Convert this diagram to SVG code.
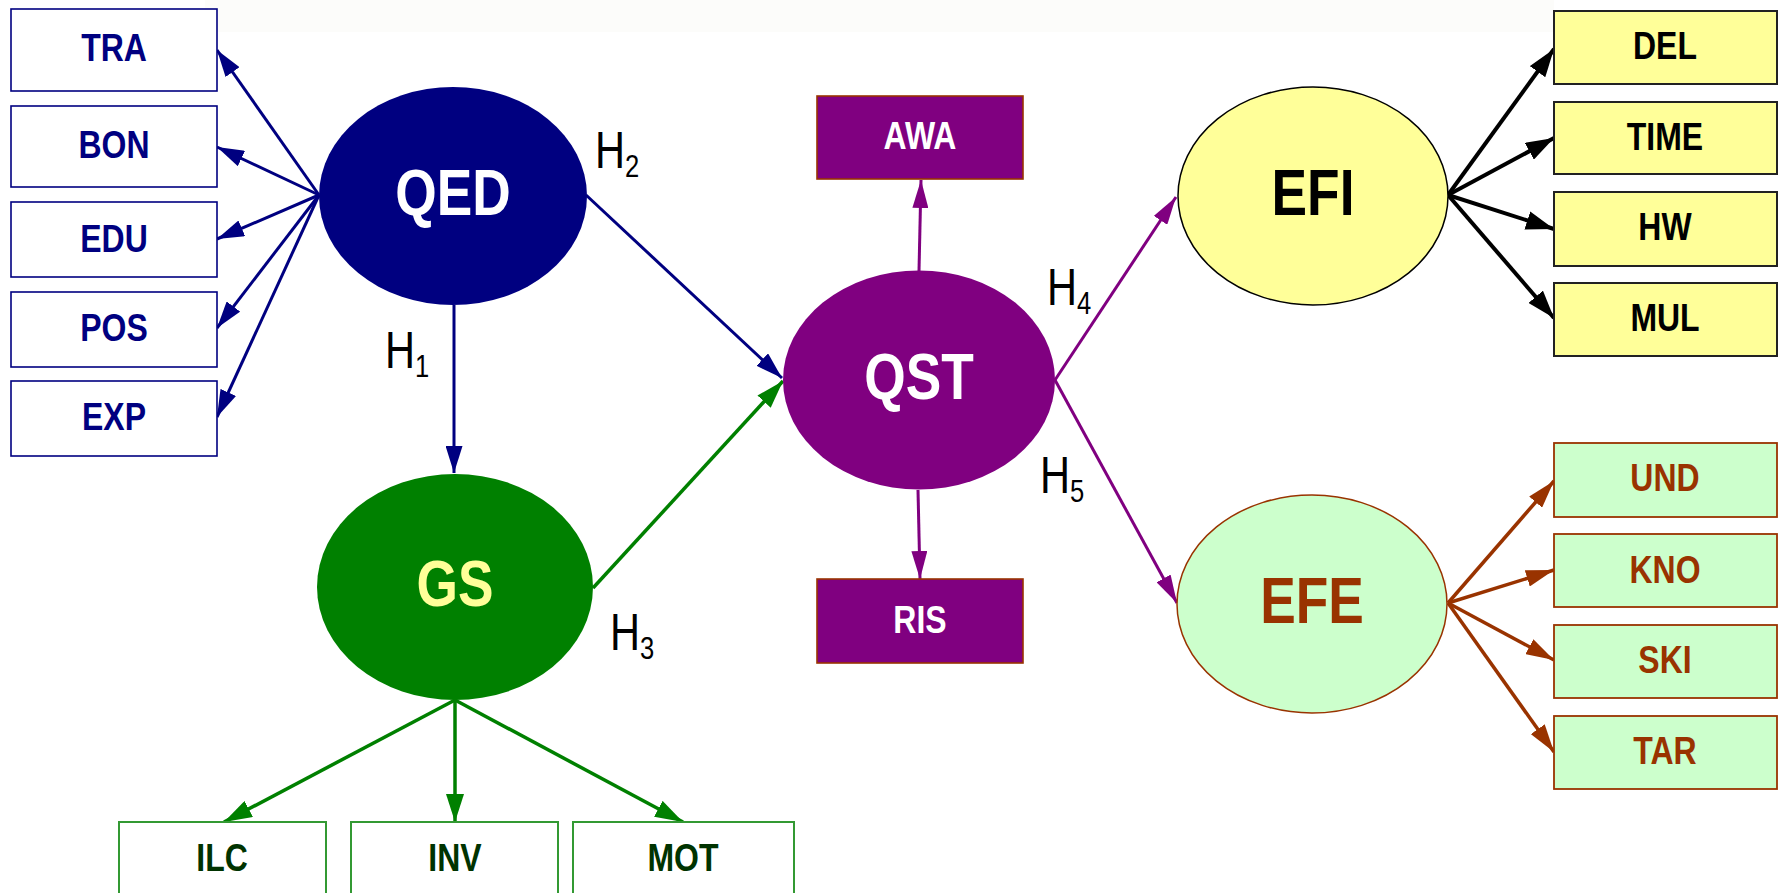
<svg xmlns="http://www.w3.org/2000/svg" width="1788" height="893" viewBox="0 0 1788 893">
  <style>
    text { font-family: "Liberation Sans", Arial, sans-serif; }
    .lbl { font-weight: bold; font-size: 39px; text-anchor: middle; }
    .big { font-weight: bold; font-size: 65px; text-anchor: middle; }
    .hyp { font-size: 52px; fill: #000; }
    .hyp tspan { font-size: 32px; }
    .navy-box { fill: #fff; stroke: #000080; stroke-width: 1.6; }
    .green-box { fill: #fff; stroke: #339933; stroke-width: 2; }
    .purple-box { fill: #800080; stroke: #993300; stroke-width: 1.6; }
    .yellow-box { fill: #FFFF99; stroke: #222; stroke-width: 2; }
    .mint-box { fill: #CCFFCC; stroke: #993300; stroke-width: 1.8; }
    .c-navy { stroke: #000080; stroke-width: 3; fill: none; marker-end: url(#ah-navy); }
    .c-green { stroke: #008000; stroke-width: 3.5; fill: none; marker-end: url(#ah-green); }
    .c-purple { stroke: #800080; stroke-width: 3; fill: none; marker-end: url(#ah-purple); }
    .c-black { stroke: #000; stroke-width: 4; fill: none; marker-end: url(#ah-black); }
    .c-brown { stroke: #993300; stroke-width: 3.5; fill: none; marker-end: url(#ah-brown); }
  </style>
  <defs>
    <marker id="ah-navy" markerUnits="userSpaceOnUse" markerWidth="27" markerHeight="17" refX="27" refY="8.5" orient="auto">
      <path d="M0,0 L27,8.5 L0,17 z" fill="#000080"/>
    </marker>
    <marker id="ah-green" markerUnits="userSpaceOnUse" markerWidth="28" markerHeight="18" refX="28" refY="9" orient="auto">
      <path d="M0,0 L28,9 L0,18 z" fill="#008000"/>
    </marker>
    <marker id="ah-purple" markerUnits="userSpaceOnUse" markerWidth="28" markerHeight="16" refX="28" refY="8" orient="auto">
      <path d="M0,0 L28,8 L0,16 z" fill="#800080"/>
    </marker>
    <marker id="ah-black" markerUnits="userSpaceOnUse" markerWidth="28" markerHeight="19" refX="28" refY="9.5" orient="auto">
      <path d="M0,0 L28,9.5 L0,19 z" fill="#000"/>
    </marker>
    <marker id="ah-brown" markerUnits="userSpaceOnUse" markerWidth="28" markerHeight="17" refX="28" refY="8.5" orient="auto">
      <path d="M0,0 L28,8.5 L0,17 z" fill="#993300"/>
    </marker>
  </defs>

  <rect width="1788" height="893" fill="#fff"/>
  <rect x="205" y="0" width="1349" height="32" fill="#FCFCFA"/>

  <!-- connectors -->
  <g id="connectors">
    <!-- QED measurement arrows -->
    <line class="c-navy" x1="319" y1="195" x2="217" y2="50"/>
    <line class="c-navy" x1="319" y1="195" x2="217" y2="147"/>
    <line class="c-navy" x1="319" y1="195" x2="217" y2="239"/>
    <line class="c-navy" x1="319" y1="195" x2="217" y2="328"/>
    <line class="c-navy" x1="319" y1="195" x2="217" y2="417"/>
    <!-- H1, H2 -->
    <line class="c-navy" x1="454" y1="305" x2="454" y2="473"/>
    <line class="c-navy" x1="586" y1="195" x2="782" y2="378"/>
    <!-- H3 -->
    <line class="c-green" x1="593" y1="588" x2="783" y2="381"/>
    <!-- GS measurement arrows -->
    <line class="c-green" x1="455" y1="700" x2="224" y2="822"/>
    <line class="c-green" x1="455" y1="700" x2="455" y2="822"/>
    <line class="c-green" x1="455" y1="700" x2="683" y2="822"/>
    <!-- QST arrows -->
    <line class="c-purple" x1="919" y1="271" x2="921" y2="180"/>
    <line class="c-purple" x1="918" y1="490" x2="920" y2="579"/>
    <line class="c-purple" x1="1055" y1="380" x2="1176" y2="197"/>
    <line class="c-purple" x1="1055" y1="380" x2="1177" y2="603"/>
    <!-- EFI measurement arrows -->
    <line class="c-black" x1="1448" y1="195" x2="1554" y2="49"/>
    <line class="c-black" x1="1448" y1="195" x2="1554" y2="138"/>
    <line class="c-black" x1="1448" y1="195" x2="1554" y2="229"/>
    <line class="c-black" x1="1448" y1="195" x2="1554" y2="318"/>
    <!-- EFE measurement arrows -->
    <line class="c-brown" x1="1448" y1="603" x2="1554" y2="481"/>
    <line class="c-brown" x1="1448" y1="603" x2="1554" y2="570"/>
    <line class="c-brown" x1="1448" y1="603" x2="1554" y2="660"/>
    <line class="c-brown" x1="1448" y1="603" x2="1554" y2="752"/>
  </g>

  <!-- hypothesis labels -->
  <g id="hypotheses">
    <text class="hyp" transform="translate(385,368) scale(0.8,1)">H<tspan dy="9">1</tspan></text>
    <text class="hyp" transform="translate(595,168) scale(0.8,1)">H<tspan dy="9">2</tspan></text>
    <text class="hyp" transform="translate(610,650) scale(0.8,1)">H<tspan dy="9">3</tspan></text>
    <text class="hyp" transform="translate(1047,305) scale(0.8,1)">H<tspan dy="9">4</tspan></text>
    <text class="hyp" transform="translate(1040,493) scale(0.8,1)">H<tspan dy="9">5</tspan></text>
  </g>

  <!-- QED indicators -->
  <g id="TRA"><rect class="navy-box" x="11" y="9" width="206" height="82"/><text class="lbl" fill="#000080" transform="translate(114,61) scale(0.82,1)">TRA</text></g>
  <g id="BON"><rect class="navy-box" x="11" y="106" width="206" height="81"/><text class="lbl" fill="#000080" transform="translate(114,158) scale(0.82,1)">BON</text></g>
  <g id="EDU"><rect class="navy-box" x="11" y="202" width="206" height="75"/><text class="lbl" fill="#000080" transform="translate(114,252) scale(0.82,1)">EDU</text></g>
  <g id="POS"><rect class="navy-box" x="11" y="292" width="206" height="75"/><text class="lbl" fill="#000080" transform="translate(114,341) scale(0.82,1)">POS</text></g>
  <g id="EXP"><rect class="navy-box" x="11" y="381" width="206" height="75"/><text class="lbl" fill="#000080" transform="translate(114,430) scale(0.82,1)">EXP</text></g>

  <!-- latent constructs -->
  <g id="QED"><ellipse cx="453" cy="196" rx="134" ry="109" fill="#000080"/><text class="big" fill="#fff" transform="translate(453,215) scale(0.82,1)">QED</text></g>
  <g id="GS"><ellipse cx="455" cy="587" rx="138" ry="113" fill="#008000"/><text class="big" fill="#FFFF99" transform="translate(455,606) scale(0.82,1)">GS</text></g>
  <g id="QST"><ellipse cx="919" cy="380" rx="136" ry="109.5" fill="#800080"/><text class="big" fill="#fff" transform="translate(919,399) scale(0.82,1)">QST</text></g>
  <g id="EFI"><ellipse cx="1313" cy="196" rx="135" ry="109" fill="#FFFF99" stroke="#000" stroke-width="1.5"/><text class="big" fill="#000" transform="translate(1313,215) scale(0.82,1)">EFI</text></g>
  <g id="EFE"><ellipse cx="1312" cy="604" rx="135" ry="109" fill="#CCFFCC" stroke="#993300" stroke-width="1.5"/><text class="big" fill="#993300" transform="translate(1312,623) scale(0.82,1)">EFE</text></g>

  <!-- QST indicators -->
  <g id="AWA"><rect class="purple-box" x="817" y="96" width="206" height="83"/><text class="lbl" fill="#fff" transform="translate(920,149) scale(0.82,1)">AWA</text></g>
  <g id="RIS"><rect class="purple-box" x="817" y="579" width="206" height="84"/><text class="lbl" fill="#fff" transform="translate(920,633) scale(0.82,1)">RIS</text></g>

  <!-- EFI indicators -->
  <g id="DEL"><rect class="yellow-box" x="1554" y="11" width="223" height="73"/><text class="lbl" fill="#000" transform="translate(1665,59) scale(0.82,1)">DEL</text></g>
  <g id="TIME"><rect class="yellow-box" x="1554" y="102" width="223" height="72"/><text class="lbl" fill="#000" transform="translate(1665,150) scale(0.82,1)">TIME</text></g>
  <g id="HW"><rect class="yellow-box" x="1554" y="192" width="223" height="74"/><text class="lbl" fill="#000" transform="translate(1665,240) scale(0.82,1)">HW</text></g>
  <g id="MUL"><rect class="yellow-box" x="1554" y="283" width="223" height="73"/><text class="lbl" fill="#000" transform="translate(1665,331) scale(0.82,1)">MUL</text></g>

  <!-- EFE indicators -->
  <g id="UND"><rect class="mint-box" x="1554" y="443" width="223" height="74"/><text class="lbl" fill="#993300" transform="translate(1665,491) scale(0.82,1)">UND</text></g>
  <g id="KNO"><rect class="mint-box" x="1554" y="534" width="223" height="73"/><text class="lbl" fill="#993300" transform="translate(1665,583) scale(0.82,1)">KNO</text></g>
  <g id="SKI"><rect class="mint-box" x="1554" y="625" width="223" height="73"/><text class="lbl" fill="#993300" transform="translate(1665,673) scale(0.82,1)">SKI</text></g>
  <g id="TAR"><rect class="mint-box" x="1554" y="716" width="223" height="73"/><text class="lbl" fill="#993300" transform="translate(1665,764) scale(0.82,1)">TAR</text></g>

  <!-- GS indicators -->
  <g id="ILC"><rect class="green-box" x="119" y="822" width="207" height="100"/><text class="lbl" fill="#003300" transform="translate(222,871) scale(0.82,1)">ILC</text></g>
  <g id="INV"><rect class="green-box" x="351" y="822" width="207" height="100"/><text class="lbl" fill="#003300" transform="translate(455,871) scale(0.82,1)">INV</text></g>
  <g id="MOT"><rect class="green-box" x="573" y="822" width="221" height="100"/><text class="lbl" fill="#003300" transform="translate(683,871) scale(0.82,1)">MOT</text></g>
</svg>
